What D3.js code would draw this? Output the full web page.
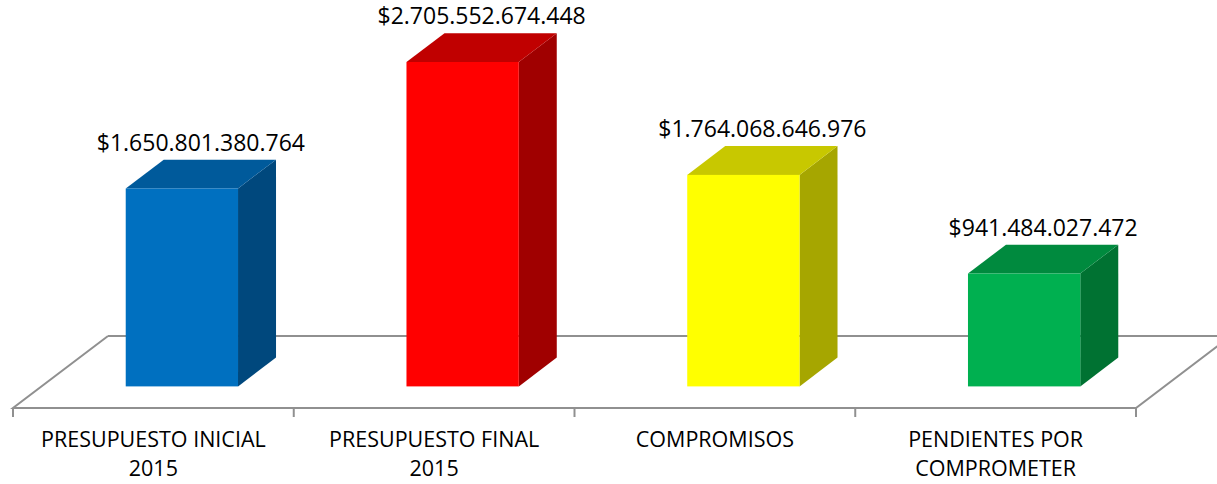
<!DOCTYPE html>
<html>
<head>
<meta charset="utf-8">
<script src="https://cdn.jsdelivr.net/npm/d3@7"></script>
<style>
html,body{margin:0;padding:0;background:#fff;}
svg{display:block;}
</style>
</head>
<body>
<svg id="chart" width="1217" height="484"></svg>
<script>
const categories = ["PRESUPUESTO INICIAL\n2015", "PRESUPUESTO FINAL\n2015", "COMPROMISOS", "PENDIENTES POR\nCOMPROMETER"];
const values = [1650801380764, 2705552674448, 1764068646976, 941484027472];
const valueLabels = ["$1.650.801.380.764", "$2.705.552.674.448", "$1.764.068.646.976", "$941.484.027.472"];
const frontColors = ["#0070C0", "#FF0000", "#FFFF00", "#00B050"];
const topColors = ["#005A9B", "#C00000", "#C8C800", "#008A3E"];
const sideColors = ["#00487D", "#A00000", "#A6A600", "#007232"];

const svg = d3.select("#chart");

// floor geometry
const floorLeft = 13, floorRight = 1136, floorFrontY = 408;
const depth = {dx: 95, dy: -72};
const barDepthStart = 0.3, barDepthEnd = 0.7;

const x = d3.scaleBand().domain(categories).range([floorLeft, floorRight]).paddingInner(0.6).paddingOuter(0.3);
const y = d3.scaleLinear().domain([0, 3e12]).range([floorFrontY, floorFrontY - 359.7]);

const g = svg.append("g");

// floor outline
const floorColor = "#909090";
const fl = g.append("g").attr("fill", "none").attr("stroke", floorColor).attr("stroke-width", 2);
const p0 = [floorLeft, floorFrontY], p1 = [floorRight, floorFrontY];
const p2 = [floorRight + depth.dx, floorFrontY + depth.dy], p3 = [floorLeft + depth.dx, floorFrontY + depth.dy];
fl.append("path").attr("d", d3.line()([p3, p0, p1, p2, p3]));
// tick marks at band boundaries
const bounds = categories.map(c => x(c) - x.step() * x.paddingInner() / 2);
bounds.push(floorRight);
bounds[0] = floorLeft;
fl.selectAll("line.tick").data(bounds).join("line")
  .attr("x1", d => d).attr("x2", d => d)
  .attr("y1", floorFrontY).attr("y2", floorFrontY + 9);

// bars
const data = categories.map((c, i) => ({c, v: values[i], i}));
const bars = g.append("g");
data.forEach(d => {
  const ox = depth.dx * barDepthStart, oy = depth.dy * barDepthStart;
  const bx = depth.dx * (barDepthEnd - barDepthStart), by = depth.dy * (barDepthEnd - barDepthStart);
  const x0 = x(d.c) + ox, x1 = x0 + x.bandwidth();
  const yb = y(0) + oy, yt = y(d.v) + oy;
  const grp = bars.append("g");
  grp.append("path").attr("fill", sideColors[d.i])
    .attr("d", d3.line()([[x1, yb], [x1 + bx, yb + by], [x1 + bx, yt + by], [x1, yt]]) + "Z");
  grp.append("path").attr("fill", topColors[d.i])
    .attr("d", d3.line()([[x0, yt], [x1, yt], [x1 + bx, yt + by], [x0 + bx, yt + by]]) + "Z");
  grp.append("rect").attr("fill", frontColors[d.i])
    .attr("x", x0).attr("y", yt).attr("width", x1 - x0).attr("height", yb - yt);
  grp.append("text")
    .attr("x", (x0 + x1) / 2 + bx / 2)
    .attr("y", yt + by - 9)
    .attr("text-anchor", "middle")
    .attr("font-family", "'Open Sans', sans-serif")
    .attr("font-size", 23)
    .attr("fill", "#000")
    .text(valueLabels[d.i]);
});

// category labels
const labels = g.append("g")
  .attr("font-family", "'Open Sans', sans-serif")
  .attr("font-size", 21.5)
  .attr("fill", "#000")
  .attr("text-anchor", "middle");
categories.forEach(c => {
  const t = labels.append("text").attr("x", x(c) + x.bandwidth() / 2);
  c.split("\n").forEach((line, k) => {
    t.append("tspan").attr("x", x(c) + x.bandwidth() / 2).attr("y", 447 + k * 29).text(line);
  });
});
</script>
</body>
</html>
